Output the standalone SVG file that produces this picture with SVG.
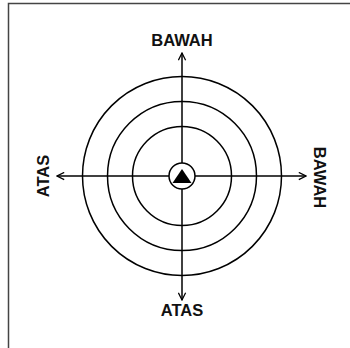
<svg xmlns="http://www.w3.org/2000/svg" width="350" height="348" viewBox="0 0 350 348">
<style>
.ring{fill:none;stroke:#000;stroke-width:1.5}
.ax{stroke:#000;stroke-width:1.5;fill:none}
.lbl{font-family:"Liberation Sans",Arial,sans-serif;font-weight:bold;font-size:16.5px;fill:#111;text-anchor:middle}
</style>
<defs>
<marker id="arr" viewBox="0 0 10 10" refX="9" refY="5" markerWidth="9" markerHeight="9" markerUnits="userSpaceOnUse" orient="auto">
<path d="M1,1 L9,5 L1,9" fill="none" stroke="#000" stroke-width="1.4"/>
</marker>
</defs>
<rect width="350" height="348" fill="#fff"/>
<path d="M8.5,348 V3.5 H350" fill="none" stroke="#444" stroke-width="1.5"/>
<g id="rings">
<circle class="ring" cx="182" cy="176" r="99.5"/>
<circle class="ring" cx="182" cy="176" r="74.5"/>
<circle class="ring" cx="182" cy="176" r="49.5"/>
</g>
<g id="connectors">
<line class="ax" x1="182" y1="163" x2="182" y2="53" marker-end="url(#arr)"/>
<line class="ax" x1="182" y1="189" x2="182" y2="300" marker-end="url(#arr)"/>
<line class="ax" x1="169" y1="176" x2="57" y2="176" marker-end="url(#arr)"/>
<line class="ax" x1="195" y1="176" x2="306" y2="176" marker-end="url(#arr)"/>
</g>
<g id="center">
<circle cx="182" cy="176" r="13" fill="#fff" stroke="#000" stroke-width="1.5"/>
<polygon points="182,169 191.5,183 172.5,183" fill="#000"/>
</g>
<g id="label-top"><text class="lbl" x="182" y="46">BAWAH</text></g>
<g id="label-bottom"><text class="lbl" x="182" y="316">ATAS</text></g>
<g id="label-left"><text class="lbl" transform="translate(48.5,176) rotate(-90)">ATAS</text></g>
<g id="label-right"><text class="lbl" transform="translate(313.5,177.5) rotate(90)">BAWAH</text></g>
</svg>
